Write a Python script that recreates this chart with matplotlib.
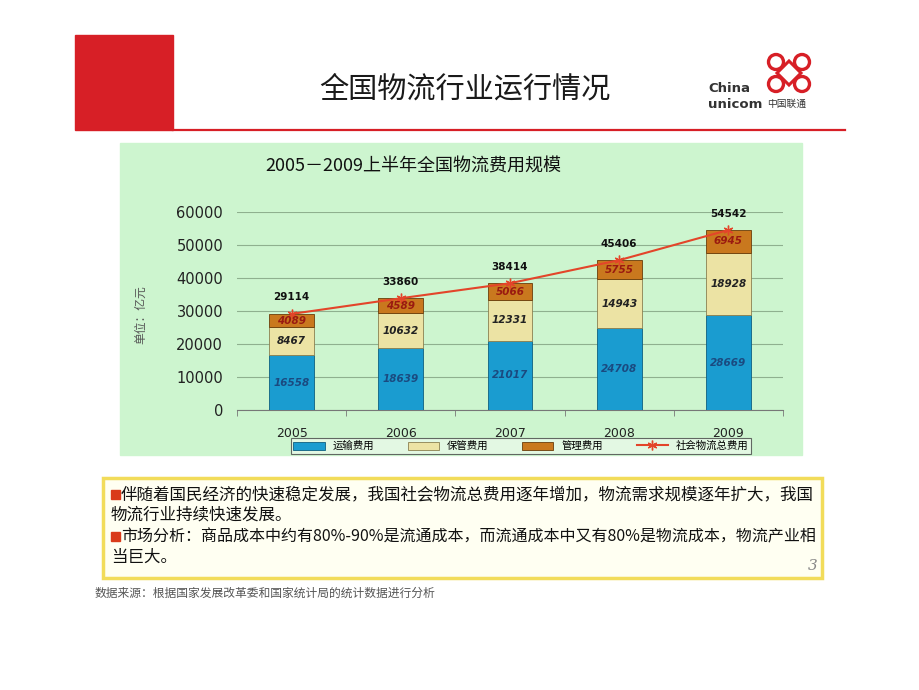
import matplotlib.pyplot as plt
from matplotlib.patches import Rectangle, Circle, Polygon
import numpy as np

plt.rcParams['font.family'] = ['Noto Sans CJK SC', 'DejaVu Sans']

years = ["2005", "2006", "2007", "2008", "2009"]
transport = [16558, 18639, 21017, 24708, 28669]   # 运输费用
storage = [8467, 10632, 12331, 14943, 18928]      # 保管费用
management = [4089, 4589, 5066, 5755, 6945]       # 管理费用
total = [29114, 33860, 38414, 45406, 54542]       # 社会物流总费用
series_names = ["运输费用", "保管费用", "管理费用", "社会物流总费用"]

W, H = 920, 690
fig = plt.figure(figsize=(W / 100, H / 100), dpi=100)
fig.patch.set_facecolor("white")

# background layer in pixel coordinates
bg = fig.add_axes([0, 0, 1, 1], zorder=0)
bg.set_xlim(0, W); bg.set_ylim(H, 0); bg.axis("off")

red = "#d71f26"
bg.add_patch(Rectangle((75, 35), 98, 95, color=red))
bg.plot([173, 845], [130, 130], color=red, lw=1.6)
bg.text(465, 90, "全国物流行业运行情况", fontsize=21, ha="center", va="center",
        color="#1a1a1a")

# simple unicom knot logo
kx, ky = 789, 73
bg.add_patch(Polygon([(kx - 12, ky), (kx, ky - 12), (kx + 12, ky), (kx, ky + 12)],
                     closed=True, fill=False, ec=red, lw=2.2))
for dx, dy in [(-13, -11), (13, -11), (-13, 11), (13, 11)]:
    bg.add_patch(Circle((kx + dx, ky + dy), 7.5, fill=False, ec=red, lw=2.4))
bg.text(708, 89, "China", fontsize=9.5, color="#333333", ha="left", va="center",
        family=["DejaVu Sans"], weight="bold")
bg.text(708, 104, "unicom", fontsize=9.5, color="#333333", ha="left", va="center",
        family=["DejaVu Sans"], weight="bold")
bg.text(767, 104, "中国联通", fontsize=7, color="#333333", ha="left", va="center")

# green chart panel
bg.add_patch(Rectangle((120, 143), 682, 312, color="#cdf5cf"))
bg.text(265, 167, "2005－2009上半年全国物流费用规模", fontsize=13, ha="left",
        va="center", color="#111111")
bg.text(141, 315, "单位：亿元", fontsize=8.5, rotation=90, ha="center", va="center",
        color="#555555")

# text box
bg.add_patch(Rectangle((103, 478), 719, 100, fc="#fffff2", ec="#f2dc5a", lw=2.5))
lines = [
    (495, "伴随着国民经济的快速稳定发展，我国社会物流总费用逐年增加，物流需求规模逐年扩大，我国", True, 11.9),
    (515, "物流行业持续快速发展。", False, 11.9),
    (537, "市场分析：商品成本中约有80%-90%是流通成本，而流通成本中又有80%是物流成本，物流产业相", True, 11.5),
    (557, "当巨大。", False, 11.9),
]
for y, s, bullet, fs in lines:
    if bullet:
        bg.add_patch(Rectangle((111, y - 5), 9, 9, color="#d93a1a"))
    bg.text(121 if bullet else 111, y, s, fontsize=fs, ha="left", va="center",
            color="#111111")
bg.text(813, 566, "3", fontsize=11, style="italic", color="#888888", ha="center",
        va="center", family=["DejaVu Serif"])
bg.text(95, 593, "数据来源：根据国家发展改革委和国家统计局的统计数据进行分析",
        fontsize=8.5, ha="left", va="center", color="#555555")

# chart axes
ax = fig.add_axes([237 / W, 1 - 410 / H, (783 - 237) / W, (410 - 212) / H], zorder=2)
ax.patch.set_alpha(0)
x = np.arange(len(years))
bw = 0.41
c_tr, c_st, c_mg, c_ln = "#1a9cd0", "#ece3a4", "#c9781e", "#e3452a"
b1 = ax.bar(x, transport, bw, color=c_tr, edgecolor="#0d5f80", lw=0.6, zorder=3,
            label=series_names[0])
b2 = ax.bar(x, storage, bw, bottom=transport, color=c_st, edgecolor="#8a8050",
            lw=0.6, zorder=3, label=series_names[1])
bot2 = np.array(transport) + np.array(storage)
b3 = ax.bar(x, management, bw, bottom=bot2, color=c_mg, edgecolor="#6a3d0a",
            lw=0.6, zorder=3, label=series_names[2])
ln, = ax.plot(x, total, color=c_ln, lw=1.5, marker=(6, 2, 0), ms=7,
              mec="#e3452a", zorder=4, label=series_names[3])

lab_kw = dict(ha="center", va="center", fontsize=7.5, style="italic",
              weight="bold", zorder=5, family=["DejaVu Sans"])
for i in range(len(years)):
    ax.text(x[i], transport[i] / 2, str(transport[i]), color="#1a4a80", **lab_kw)
    ax.text(x[i], transport[i] + storage[i] / 2, str(storage[i]), color="#222222", **lab_kw)
    ax.text(x[i], bot2[i] + management[i] / 2, str(management[i]), color="#9a1a10", **lab_kw)
    ax.text(x[i], total[i] + 5000, str(total[i]), ha="center", va="center",
            fontsize=7.5, weight="bold", color="#111111", zorder=5,
            family=["DejaVu Sans"])

ax.set_xlim(-0.5, len(years) - 0.5)
ax.set_ylim(0, 60000)
ax.set_yticks(np.arange(0, 60001, 10000))
ax.yaxis.set_tick_params(length=0, pad=10, labelsize=10.5)
for t in ax.get_yticklabels():
    t.set_family(["DejaVu Sans"]); t.set_color("#222222")
ax.set_xticks(x)
ax.set_xticklabels(years, fontsize=9, family=["DejaVu Sans"], color="#222222")
ax.set_xticks(np.arange(-0.5, len(years), 1), minor=True)
ax.tick_params(axis="x", which="major", length=0, pad=12)
ax.tick_params(axis="x", which="minor", length=4, color="#777777")
ax.grid(axis="y", color="#8fb08f", lw=0.8, zorder=0)
for side in ["top", "right", "left"]:
    ax.spines[side].set_visible(False)
ax.spines["bottom"].set_color("#777777")

leg = fig.legend(handles=[b1, b2, b3, ln], loc="center", ncol=4,
                 bbox_to_anchor=(521 / W, 1 - 446 / H), fontsize=7.5,
                 frameon=True, fancybox=False, edgecolor="#444444",
                 facecolor="#e9f9e9", handlelength=3, handleheight=0.8,
                 columnspacing=3.2, borderpad=0.25)
leg.get_frame().set_linewidth(0.8)

fig.savefig("out.png", dpi=100)
